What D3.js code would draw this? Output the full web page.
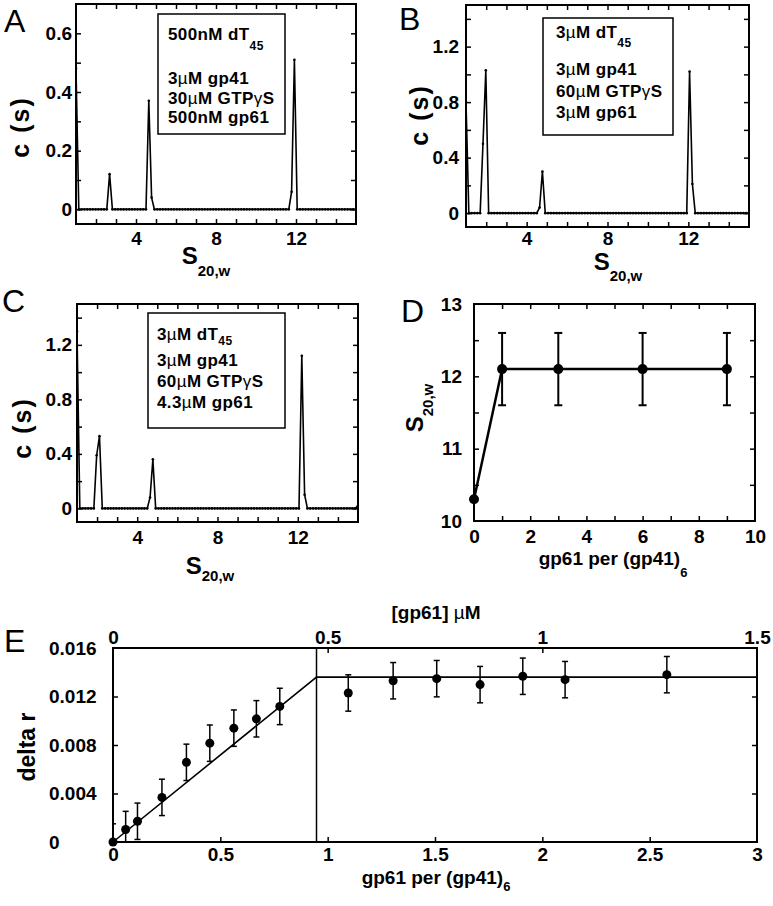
<!DOCTYPE html>
<html>
<head>
<meta charset="utf-8">
<script src="https://cdn.jsdelivr.net/npm/d3@7/dist/d3.min.js"></script>
<style>
  body { margin: 0; background: #fff; }
  svg  { display: block; font-family: "Liberation Sans", Arial, Helvetica, sans-serif; }
</style>
</head>
<body>
<svg id="fig" width="773" height="906"></svg>
<script>
//------------------------------------------------------------------------
// Data

// c(s) grid of panels A-C: 101 points from 1 S to 15 S
const sGrid = d3.range(101).map(i => +(1 + i * 0.14).toFixed(2));

// Non-zero c(s) points [s, c]; every other grid point lies on the baseline (c = 0)
const peaksA = [[1.00, 0.48], [2.68, 0.12], [4.64, 0.37], [4.78, 0.04], [11.78, 0.06], [11.92, 0.51]];
const peaksB = [[1.00, 0.80], [1.84, 0.50], [1.98, 1.03], [4.64, 0.04], [4.78, 0.30], [12.06, 1.02], [12.20, 0.21]];
const peaksC = [[1.00, 1.30], [1.98, 0.39], [2.12, 0.53], [4.64, 0.08], [4.78, 0.36], [12.20, 1.12], [12.34, 0.10], [15.00, 0.02]];

// Sample boxes ("|" starts the subscript)
const legendA = ['500nM dT|45', '3µM gp41', '30µM GTPγS', '500nM gp61'];
const legendB = ['3µM dT|45', '3µM gp41', '60µM GTPγS', '3µM gp61'];
const legendC = ['3µM dT|45', '3µM gp41', '60µM GTPγS', '4.3µM gp61'];

// Panel D : s20,w of the complex against gp61 per (gp41)6
const ratioD = [0, 1, 3, 6, 9];
const s20wD  = [10.3, 12.1, 12.1, 12.1, 12.1];
const errD   = [0, 0.5, 0.5, 0.5, 0.5];

// Panel E : anisotropy change against gp61 per (gp41)6
const ratioE = [0, 0.059, 0.114, 0.228, 0.342, 0.451, 0.563, 0.668, 0.777,
                1.096, 1.305, 1.508, 1.710, 1.909, 2.106, 2.58];
const deltaR = [0, 0.00103, 0.00171, 0.00368, 0.00657, 0.00815, 0.00939, 0.01016, 0.01118,
                0.01229, 0.0133, 0.01347, 0.01298, 0.01367, 0.01339, 0.0138];
const errE   = [0.0015, 0.0015, 0.0015, 0.0015, 0.0015, 0.0015, 0.0015, 0.0015, 0.0015,
                0.0015, 0.0015, 0.0015, 0.0015, 0.0015, 0.0015, 0.0015];

// Two-segment fit and break point of panel E
const fitRatio  = [0, 0.948, 3];
const fitDeltaR = [0, 0.0136, 0.0136];
const breakRatio = 0.948;

//------------------------------------------------------------------------
// Helpers

const svg = d3.select('#fig');
svg.append('rect').attr('width', 773).attr('height', 906).attr('fill', '#fff');

function cleanAxis(sel) {
    sel.attr('font-family', null).attr('font-size', null);
    sel.select('.domain').remove();
    sel.selectAll('.tick line').attr('stroke', '#000').attr('stroke-width', 1.5);
    sel.selectAll('.tick text').attr('fill', '#000').attr('font-weight', 'bold').attr('font-size', 19);
}

// frame box plus inward ticks on all four sides
function frame(g, p, x, y, xt, yt, topAxis) {
    const len = 5;
    const add = (axis, tr) => g.append('g').attr('transform', tr)
                               .call(axis.tickSize(-len).tickFormat(''))
                               .call(cleanAxis);
    add(d3.axisBottom(x).tickValues(xt), `translate(0,${p.b})`);
    add(topAxis || d3.axisTop(x).tickValues(xt), `translate(0,${p.t})`);
    add(d3.axisLeft(y).tickValues(yt), `translate(${p.l},0)`);
    add(d3.axisRight(y).tickValues(yt), `translate(${p.r},0)`);
    g.append('rect').attr('x', p.l).attr('y', p.t)
     .attr('width', p.r - p.l).attr('height', p.b - p.t)
     .attr('fill', 'none').attr('stroke', '#000').attr('stroke-width', 2);
}

function bottomLabels(g, p, x, vals, off, fmt) {
    g.append('g').attr('transform', `translate(0,${p.b})`)
     .call(d3.axisBottom(x).tickValues(vals).tickSize(0).tickPadding(0).tickFormat(fmt || (d => d)))
     .call(cleanAxis)
     .selectAll('.tick text').attr('y', off).attr('dy', null);
}

function leftLabels(g, p, y, vals, pad, fmt) {
    g.append('g').attr('transform', `translate(${p.l},0)`)
     .call(d3.axisLeft(y).tickValues(vals).tickSize(0).tickPadding(pad).tickFormat(fmt || (d => d)))
     .call(cleanAxis);
}

// bold text with µ / γ in a lighter face and an optional subscript after "|"
function label(g, x, y, str, o = {}) {
    const [main, sub] = str.split('|');
    const t = g.append('text')
               .attr('font-size', o.size || 18).attr('font-weight', 'bold')
               .attr('text-anchor', o.anchor || 'start').attr('fill', '#000');
    if (o.spacing) t.attr('letter-spacing', o.spacing);
    if (o.rotate) t.attr('transform', `translate(${x},${y}) rotate(-90)`);
    else t.attr('x', x).attr('y', y);
    main.split(/([µγ])/).filter(s => s.length).forEach(part => {
        t.append('tspan').text(part).attr('font-weight', /^[µγ]$/.test(part) ? 'normal' : null);
    });
    if (sub) t.append('tspan').text(sub).attr('font-size', o.subSize || 13).attr('dy', o.subDy || 8);
    return t;
}

function panelLetter(x, y, ch) {
    svg.append('text').attr('x', x).attr('y', y).attr('font-size', 32)
       .attr('fill', '#000').text(ch);
}

//------------------------------------------------------------------------
// Panels A-C : c(s) distributions

const spectra = [
    {id: 'A', peaks: peaksA, legend: legendA, p: {l: 76, r: 356, t: 4, b: 224},
     yDom: [-0.05, 0.7], yMinor: d3.range(0, 0.61, 0.1), yLab: [0, 0.2, 0.4, 0.6], yPad: 4,
     letter: [4, 32], yTitle: [29, 127], xTitle: [206, 264, 12], xOff: 21,
     box: {x: 158, y: 14, w: 127, h: 120, tx: 168, lines: [40, 84, 104, 123], subDy: 10}},
    {id: 'B', peaks: peaksB, legend: legendB, p: {l: 466, r: 749, t: 5, b: 227},
     yDom: [-0.1, 1.5], yMinor: d3.range(0, 1.41, 0.2), yLab: [0, 0.4, 0.8, 1.2], yPad: 7,
     letter: [399, 30], yTitle: [428, 115], xTitle: [618, 270, 11], xOff: 18,
     box: {x: 543, y: 18, w: 130, h: 117, tx: 556, lines: [38, 75, 97, 118], subDy: 9}},
    {id: 'C', peaks: peaksC, legend: legendC, p: {l: 77, r: 358, t: 304, b: 522},
     yDom: [-0.1, 1.5], yMinor: d3.range(0, 1.41, 0.2), yLab: [0, 0.4, 0.8, 1.2], yPad: 5,
     letter: [2, 312], yTitle: [31, 428], xTitle: [210, 574, 7], xOff: 22,
     box: {x: 148, y: 313, w: 137, h: 115, tx: 157, lines: [340, 366, 387, 408], subDy: 5}}
];

spectra.forEach(d => {
    const p = d.p;
    const g = svg.append('g');
    const x = d3.scaleLinear().domain([1, 15]).range([p.l, p.r]);
    const y = d3.scaleLinear().domain(d.yDom).range([p.b, p.t]);

    frame(g, p, x, y, d3.range(2, 15), d.yMinor);
    bottomLabels(g, p, x, [4, 8, 12], d.xOff);
    leftLabels(g, p, y, d.yLab, d.yPad);

    // full c(s) series on the grid
    const series = sGrid.map(s => {
        const hit = d.peaks.find(k => Math.abs(k[0] - s) < 0.005);
        return [s, hit ? hit[1] : 0];
    });

    g.append('clipPath').attr('id', 'clip' + d.id)
     .append('rect').attr('x', p.l).attr('y', p.t).attr('width', p.r - p.l).attr('height', p.b - p.t);
    const plot = g.append('g').attr('clip-path', `url(#clip${d.id})`);
    plot.append('path').datum(series)
        .attr('d', d3.line().x(k => x(k[0])).y(k => y(k[1])))
        .attr('fill', 'none').attr('stroke', '#000').attr('stroke-width', 1.6);
    plot.selectAll('circle').data(series).enter().append('circle')
        .attr('cx', k => x(k[0])).attr('cy', k => y(k[1])).attr('r', 1.3).attr('fill', '#000');

    // sample box
    const b = d.box;
    g.append('rect').attr('x', b.x).attr('y', b.y).attr('width', b.w).attr('height', b.h)
     .attr('fill', '#fff').attr('stroke', '#000').attr('stroke-width', 1.5);
    d.legend.forEach((s, i) => label(g, b.tx, b.lines[i], s,
                                     {size: 17, spacing: 0.4, subSize: 12, subDy: b.subDy}));

    label(g, d.yTitle[0], d.yTitle[1], 'c (s)', {size: 25, spacing: 2, anchor: 'middle', rotate: true});
    label(g, d.xTitle[0], d.xTitle[1], 'S|20,w', {size: 24, anchor: 'middle', subSize: 15, subDy: d.xTitle[2]});
    panelLetter(d.letter[0], d.letter[1], d.id);
});

//------------------------------------------------------------------------
// Panel D

(function () {
    const p = {l: 474, r: 755, t: 304, b: 521};
    const g = svg.append('g');
    const x = d3.scaleLinear().domain([0, 10]).range([p.l, p.r]);
    const y = d3.scaleLinear().domain([10, 13]).range([p.b, p.t]);

    frame(g, p, x, y, d3.range(1, 10), d3.range(10.5, 13, 0.5));
    bottomLabels(g, p, x, d3.range(0, 11, 2), 22);
    leftLabels(g, p, y, [10, 11, 12, 13], 12);

    const pts = ratioD.map((r, i) => ({r: r, s: s20wD[i], e: errD[i]}));

    g.append('path').datum(pts)
     .attr('d', d3.line().x(k => x(k.r)).y(k => y(k.s)))
     .attr('fill', 'none').attr('stroke', '#000').attr('stroke-width', 2.5);

    const eb = g.selectAll('.eb').data(pts.filter(k => k.e > 0)).enter().append('g')
                .attr('stroke', '#000').attr('stroke-width', 2);
    eb.append('line').attr('x1', k => x(k.r)).attr('x2', k => x(k.r))
      .attr('y1', k => y(k.s - k.e)).attr('y2', k => y(k.s + k.e));
    [-1, 1].forEach(sgn => eb.append('line')
      .attr('x1', k => x(k.r) - 4).attr('x2', k => x(k.r) + 4)
      .attr('y1', k => y(k.s + sgn * k.e)).attr('y2', k => y(k.s + sgn * k.e)));

    g.selectAll('.pt').data(pts).enter().append('circle')
     .attr('cx', k => x(k.r)).attr('cy', k => y(k.s)).attr('r', 5).attr('fill', '#000');

    label(g, 423, 408, 'S|20,w', {size: 24, anchor: 'middle', rotate: true, subSize: 15, subDy: 10});
    label(g, 613, 565, 'gp61 per (gp41)|6', {size: 19, anchor: 'middle', subSize: 13, subDy: 12});
    panelLetter(401, 322, 'D');
})();

//------------------------------------------------------------------------
// Panel E

(function () {
    const p = {l: 113, r: 757, t: 648, b: 842};
    const g = svg.append('g');
    const x  = d3.scaleLinear().domain([0, 3]).range([p.l, p.r]);
    const x2 = d3.scaleLinear().domain([0, 1.5]).range([p.l, p.r]);   // [gp61] uM
    const y  = d3.scaleLinear().domain([0, 0.016]).range([p.b, p.t]);

    frame(g, p, x, y, d3.range(0.5, 3, 0.5), [0.004, 0.008, 0.012],
          d3.axisTop(x2).tickValues([0.5, 1]));
    bottomLabels(g, p, x, d3.range(0, 3.01, 0.5), 19);

    // top concentration axis labels
    g.append('g').attr('transform', `translate(0,${p.t})`)
     .call(d3.axisTop(x2).tickValues([0, 0.5, 1, 1.5]).tickSize(0).tickPadding(4).tickFormat(d => d))
     .call(cleanAxis);

    // y labels are left aligned in the original
    g.selectAll('.ylab').data([0, 0.004, 0.008, 0.012, 0.016]).enter().append('text')
     .attr('x', 49).attr('y', d => y(d)).attr('dy', '0.36em')
     .attr('font-size', 19).attr('font-weight', 'bold').attr('fill', '#000')
     .text(d => d === 0 ? '0' : d3.format('.3f')(d));

    // break line and fitted segments
    g.append('line').attr('x1', x(breakRatio)).attr('x2', x(breakRatio))
     .attr('y1', y(0)).attr('y2', y(0.016)).attr('stroke', '#000').attr('stroke-width', 1.5);
    g.append('path').datum(fitRatio.map((r, i) => [r, fitDeltaR[i]]))
     .attr('d', d3.line().x(k => x(k[0])).y(k => y(k[1])))
     .attr('fill', 'none').attr('stroke', '#000').attr('stroke-width', 1.6);

    const pts = ratioE.map((r, i) => ({r: r, v: deltaR[i], e: errE[i]}));
    g.append('clipPath').attr('id', 'clipE')
     .append('rect').attr('x', p.l).attr('y', p.t).attr('width', p.r - p.l).attr('height', p.b - p.t);
    const eb = g.append('g').attr('clip-path', 'url(#clipE)')
                .selectAll('g').data(pts).enter().append('g')
                .attr('stroke', '#000').attr('stroke-width', 1.5);
    eb.append('line').attr('x1', k => x(k.r)).attr('x2', k => x(k.r))
      .attr('y1', k => y(k.v - k.e)).attr('y2', k => y(k.v + k.e));
    [-1, 1].forEach(sgn => eb.append('line')
      .attr('x1', k => x(k.r) - 3).attr('x2', k => x(k.r) + 3)
      .attr('y1', k => y(k.v + sgn * k.e)).attr('y2', k => y(k.v + sgn * k.e)));

    g.selectAll('.pt').data(pts).enter().append('circle')
     .attr('cx', k => x(k.r)).attr('cy', k => y(k.v)).attr('r', 4.5).attr('fill', '#000');

    label(g, 436, 619, '[gp61] µM', {size: 19, anchor: 'middle'});
    label(g, 436, 884, 'gp61 per (gp41)|6', {size: 19, anchor: 'middle', subSize: 13, subDy: 7});
    label(g, 35, 747, 'delta r', {size: 23, anchor: 'middle', rotate: true});
    panelLetter(4, 652, 'E');
})();
</script>
</body>
</html>
